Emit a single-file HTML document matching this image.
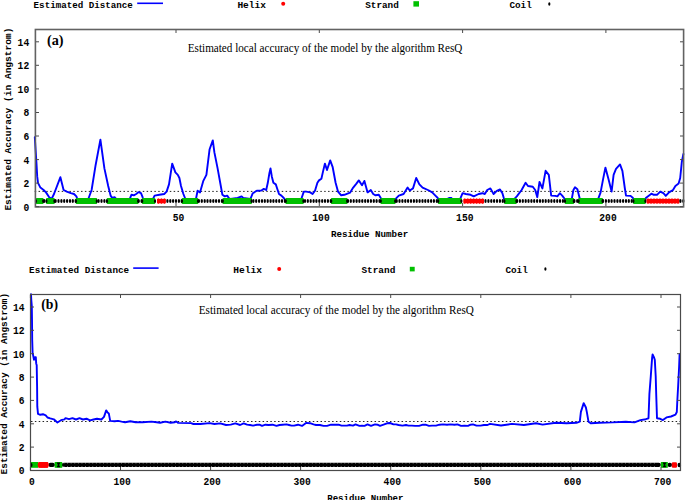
<!DOCTYPE html>
<html><head><meta charset="utf-8"><title>ResQ local accuracy</title>
<style>html,body{margin:0;padding:0;background:#fff;width:685px;height:500px;overflow:hidden}svg{display:block}text{fill:#000}</style>
</head><body>
<svg width="685" height="500" viewBox="0 0 685 500">
<rect width="685" height="500" fill="#fff"/>
<line x1="34.7" y1="191.4" x2="683" y2="191.4" stroke="#222" stroke-width="1" stroke-dasharray="1.5 2.36"/>
<path d="M34.8,137.2 L36.4,162.0 L37.2,176.4 L38.0,182.8 L40.4,187.6 L43.6,190.0 L46.0,192.4 L49.2,197.2 L51.6,198.8 L54.0,194.0 L60.4,177.2 L63.6,190.0 L66.8,191.6 L70.8,193.2 L74.0,194.0 L76.4,196.4 L77.2,198.8 L79.0,201.0 L86.0,201.0 L88.4,198.8 L91.6,190.0 L95.6,165.2 L100.4,139.6 L104.4,168.4 L108.2,186.0 L110.6,195.6 L112.2,198.0 L114.6,197.2 L116.2,198.8 L118.0,201.0 L128.0,201.0 L129.8,198.8 L131.4,194.8 L133.8,195.3 L136.2,194.0 L138.6,192.1 L141.0,193.2 L142.6,197.2 L143.4,200.4 L145.0,201.0 L151.0,201.0 L153.0,198.8 L154.6,195.6 L159.4,194.8 L164.2,194.0 L166.6,191.6 L169.0,184.4 L172.2,163.6 L175.4,172.4 L177.8,174.8 L179.4,178.0 L181.0,186.0 L183.4,194.0 L185.0,198.0 L186.0,201.0 L195.0,201.0 L196.0,198.8 L197.6,190.8 L200.0,192.4 L203.2,181.2 L206.4,174.8 L209.6,149.2 L212.8,140.4 L214.4,152.4 L217.6,168.4 L220.8,186.0 L222.4,194.8 L224.8,196.4 L227.2,195.6 L228.8,198.0 L230.4,199.0 L237.6,198.0 L241.6,196.4 L243.2,198.0 L250.4,199.0 L252.8,193.2 L256.8,190.8 L261.4,190.5 L263.8,188.9 L266.2,190.0 L267.8,182.8 L269.4,173.2 L270.5,168.4 L271.8,176.4 L273.4,182.8 L275.8,184.4 L277.4,189.2 L279.0,194.0 L281.4,195.6 L283.8,198.0 L285.4,200.4 L287.0,201.0 L300.0,201.0 L301.4,198.8 L303.8,191.6 L306.2,191.6 L310.2,192.4 L312.6,194.0 L315.0,190.8 L317.4,182.8 L319.0,180.4 L321.4,178.8 L323.0,171.6 L324.9,163.6 L327.0,170.0 L330.2,160.4 L332.6,166.8 L335.6,182.8 L338.0,191.6 L341.2,195.3 L344.4,194.8 L350.0,192.7 L353.2,187.6 L356.4,183.6 L358.8,180.4 L362.0,185.2 L364.4,180.9 L367.6,192.4 L370.8,190.0 L373.2,194.0 L375.6,195.3 L378.8,194.8 L381.2,198.8 L383.0,201.0 L394.0,201.0 L395.6,198.8 L398.8,195.6 L403.6,194.0 L407.6,187.6 L409.8,190.5 L413.0,188.4 L416.2,178.0 L419.4,184.4 L422.6,187.6 L429.0,190.5 L432.2,192.4 L435.4,195.6 L437.8,198.0 L439.0,201.0 L447.0,199.0 L449.0,198.0 L451.4,198.0 L453.0,201.0 L459.0,201.0 L460.2,198.8 L462.6,193.2 L465.8,194.0 L470.6,194.8 L473.8,196.4 L478.6,194.0 L482.4,193.2 L484.8,194.0 L487.2,190.0 L490.4,188.4 L493.6,194.0 L496.8,190.8 L500.0,189.5 L502.4,193.2 L504.0,198.8 L506.0,201.0 L513.0,201.0 L514.4,198.8 L516.8,196.4 L521.6,190.0 L525.6,182.8 L528.0,186.0 L532.8,186.8 L535.2,190.0 L537.3,197.2 L539.5,182.0 L542.4,188.4 L545.6,170.8 L548.8,174.8 L551.2,195.6 L555.2,195.9 L557.4,196.4 L559.8,193.2 L562.2,195.6 L564.6,198.8 L566.0,201.0 L571.0,201.0 L571.8,198.8 L573.4,190.0 L575.0,187.3 L577.4,189.2 L579.8,198.8 L581.0,201.0 L597.0,201.0 L598.2,198.8 L600.6,192.4 L603.0,179.6 L605.4,167.6 L608.6,179.6 L611.6,191.6 L613.6,174.8 L616.0,168.8 L620.0,164.4 L622.4,170.8 L624.8,188.0 L626.0,195.6 L630.6,195.9 L633.0,198.0 L634.0,201.0 L645.0,201.0 L645.8,198.0 L651.4,193.7 L653.8,194.8 L657.0,194.8 L660.2,191.6 L663.4,193.2 L665.8,195.9 L669.0,192.4 L673.0,190.0 L675.4,186.0 L678.6,183.6 L680.2,178.0 L681.8,162.0 L683.4,154.0" fill="none" stroke="#0000ff" stroke-width="1.9" stroke-linejoin="round" stroke-linecap="round"/>
<rect x="35.6" y="198.1" width="8.0" height="5.9" rx="1" fill="#00c000"/>
<ellipse cx="36.0" cy="201.1" rx="1.1" ry="1.9" fill="#000"/>
<ellipse cx="43.2" cy="201.1" rx="1.1" ry="1.9" fill="#000"/>
<ellipse cx="44.2" cy="201.1" rx="1.15" ry="2" fill="#000"/>
<rect x="46.0" y="198.1" width="8.8" height="5.9" rx="1" fill="#00c000"/>
<ellipse cx="46.4" cy="201.1" rx="1.1" ry="1.9" fill="#000"/>
<ellipse cx="54.4" cy="201.1" rx="1.1" ry="1.9" fill="#000"/>
<ellipse cx="55.6" cy="201.1" rx="1.15" ry="2" fill="#000"/>
<ellipse cx="58.5" cy="201.1" rx="1.15" ry="2" fill="#000"/>
<ellipse cx="61.4" cy="201.1" rx="1.15" ry="2" fill="#000"/>
<ellipse cx="64.2" cy="201.1" rx="1.15" ry="2" fill="#000"/>
<ellipse cx="67.1" cy="201.1" rx="1.15" ry="2" fill="#000"/>
<ellipse cx="70.0" cy="201.1" rx="1.15" ry="2" fill="#000"/>
<ellipse cx="72.8" cy="201.1" rx="1.15" ry="2" fill="#000"/>
<ellipse cx="75.7" cy="201.1" rx="1.15" ry="2" fill="#000"/>
<rect x="75.6" y="198.1" width="21.6" height="5.9" rx="1" fill="#00c000"/>
<ellipse cx="76.0" cy="201.1" rx="1.1" ry="1.9" fill="#000"/>
<ellipse cx="96.8" cy="201.1" rx="1.1" ry="1.9" fill="#000"/>
<ellipse cx="98.6" cy="201.1" rx="1.15" ry="2" fill="#000"/>
<ellipse cx="101.5" cy="201.1" rx="1.15" ry="2" fill="#000"/>
<ellipse cx="104.4" cy="201.1" rx="1.15" ry="2" fill="#000"/>
<ellipse cx="107.2" cy="201.1" rx="1.15" ry="2" fill="#000"/>
<rect x="106.6" y="198.1" width="32.0" height="5.9" rx="1" fill="#00c000"/>
<ellipse cx="107.0" cy="201.1" rx="1.1" ry="1.9" fill="#000"/>
<ellipse cx="138.2" cy="201.1" rx="1.1" ry="1.9" fill="#000"/>
<ellipse cx="138.7" cy="201.1" rx="1.15" ry="2" fill="#000"/>
<ellipse cx="141.6" cy="201.1" rx="1.15" ry="2" fill="#000"/>
<rect x="141.8" y="198.1" width="13.6" height="5.9" rx="1" fill="#00c000"/>
<ellipse cx="142.2" cy="201.1" rx="1.1" ry="1.9" fill="#000"/>
<ellipse cx="155.0" cy="201.1" rx="1.1" ry="1.9" fill="#000"/>
<rect x="157.0" y="198.9" width="8.8" height="4.4" fill="#ff0000"/>
<ellipse cx="158.4" cy="201.1" rx="1.2" ry="2.9" fill="#ff0000"/>
<ellipse cx="161.4" cy="201.1" rx="1.2" ry="2.9" fill="#ff0000"/>
<ellipse cx="164.4" cy="201.1" rx="1.2" ry="2.9" fill="#ff0000"/>
<ellipse cx="167.4" cy="201.1" rx="1.15" ry="2" fill="#000"/>
<ellipse cx="170.3" cy="201.1" rx="1.15" ry="2" fill="#000"/>
<ellipse cx="173.1" cy="201.1" rx="1.15" ry="2" fill="#000"/>
<ellipse cx="176.0" cy="201.1" rx="1.15" ry="2" fill="#000"/>
<ellipse cx="178.9" cy="201.1" rx="1.15" ry="2" fill="#000"/>
<ellipse cx="181.7" cy="201.1" rx="1.15" ry="2" fill="#000"/>
<rect x="181.6" y="198.1" width="16.8" height="5.9" rx="1" fill="#00c000"/>
<ellipse cx="182.0" cy="201.1" rx="1.1" ry="1.9" fill="#000"/>
<ellipse cx="198.0" cy="201.1" rx="1.1" ry="1.9" fill="#000"/>
<ellipse cx="198.9" cy="201.1" rx="1.15" ry="2" fill="#000"/>
<ellipse cx="201.8" cy="201.1" rx="1.15" ry="2" fill="#000"/>
<ellipse cx="204.7" cy="201.1" rx="1.15" ry="2" fill="#000"/>
<ellipse cx="207.5" cy="201.1" rx="1.15" ry="2" fill="#000"/>
<ellipse cx="210.4" cy="201.1" rx="1.15" ry="2" fill="#000"/>
<ellipse cx="213.3" cy="201.1" rx="1.15" ry="2" fill="#000"/>
<ellipse cx="216.1" cy="201.1" rx="1.15" ry="2" fill="#000"/>
<ellipse cx="219.0" cy="201.1" rx="1.15" ry="2" fill="#000"/>
<ellipse cx="221.9" cy="201.1" rx="1.15" ry="2" fill="#000"/>
<rect x="222.4" y="198.1" width="29.6" height="5.9" rx="1" fill="#00c000"/>
<ellipse cx="222.8" cy="201.1" rx="1.1" ry="1.9" fill="#000"/>
<ellipse cx="251.6" cy="201.1" rx="1.1" ry="1.9" fill="#000"/>
<ellipse cx="253.4" cy="201.1" rx="1.15" ry="2" fill="#000"/>
<ellipse cx="256.2" cy="201.1" rx="1.15" ry="2" fill="#000"/>
<ellipse cx="259.1" cy="201.1" rx="1.15" ry="2" fill="#000"/>
<ellipse cx="262.0" cy="201.1" rx="1.15" ry="2" fill="#000"/>
<ellipse cx="264.8" cy="201.1" rx="1.15" ry="2" fill="#000"/>
<ellipse cx="267.7" cy="201.1" rx="1.15" ry="2" fill="#000"/>
<ellipse cx="270.6" cy="201.1" rx="1.15" ry="2" fill="#000"/>
<ellipse cx="273.4" cy="201.1" rx="1.15" ry="2" fill="#000"/>
<ellipse cx="276.3" cy="201.1" rx="1.15" ry="2" fill="#000"/>
<ellipse cx="279.2" cy="201.1" rx="1.15" ry="2" fill="#000"/>
<ellipse cx="282.0" cy="201.1" rx="1.15" ry="2" fill="#000"/>
<ellipse cx="284.9" cy="201.1" rx="1.15" ry="2" fill="#000"/>
<rect x="285.4" y="198.1" width="18.4" height="5.9" rx="1" fill="#00c000"/>
<ellipse cx="285.8" cy="201.1" rx="1.1" ry="1.9" fill="#000"/>
<ellipse cx="303.4" cy="201.1" rx="1.1" ry="1.9" fill="#000"/>
<ellipse cx="305.0" cy="201.1" rx="1.15" ry="2" fill="#000"/>
<ellipse cx="307.8" cy="201.1" rx="1.15" ry="2" fill="#000"/>
<ellipse cx="310.7" cy="201.1" rx="1.15" ry="2" fill="#000"/>
<ellipse cx="313.6" cy="201.1" rx="1.15" ry="2" fill="#000"/>
<ellipse cx="316.4" cy="201.1" rx="1.15" ry="2" fill="#000"/>
<ellipse cx="319.3" cy="201.1" rx="1.15" ry="2" fill="#000"/>
<ellipse cx="322.2" cy="201.1" rx="1.15" ry="2" fill="#000"/>
<ellipse cx="325.0" cy="201.1" rx="1.15" ry="2" fill="#000"/>
<ellipse cx="327.9" cy="201.1" rx="1.15" ry="2" fill="#000"/>
<ellipse cx="330.8" cy="201.1" rx="1.15" ry="2" fill="#000"/>
<rect x="330.8" y="198.1" width="16.8" height="5.9" rx="1" fill="#00c000"/>
<ellipse cx="331.2" cy="201.1" rx="1.1" ry="1.9" fill="#000"/>
<ellipse cx="347.2" cy="201.1" rx="1.1" ry="1.9" fill="#000"/>
<ellipse cx="348.0" cy="201.1" rx="1.15" ry="2" fill="#000"/>
<ellipse cx="350.8" cy="201.1" rx="1.15" ry="2" fill="#000"/>
<ellipse cx="353.7" cy="201.1" rx="1.15" ry="2" fill="#000"/>
<ellipse cx="356.6" cy="201.1" rx="1.15" ry="2" fill="#000"/>
<ellipse cx="359.4" cy="201.1" rx="1.15" ry="2" fill="#000"/>
<ellipse cx="362.3" cy="201.1" rx="1.15" ry="2" fill="#000"/>
<ellipse cx="365.2" cy="201.1" rx="1.15" ry="2" fill="#000"/>
<ellipse cx="368.0" cy="201.1" rx="1.15" ry="2" fill="#000"/>
<ellipse cx="370.9" cy="201.1" rx="1.15" ry="2" fill="#000"/>
<ellipse cx="373.8" cy="201.1" rx="1.15" ry="2" fill="#000"/>
<ellipse cx="376.6" cy="201.1" rx="1.15" ry="2" fill="#000"/>
<ellipse cx="379.5" cy="201.1" rx="1.15" ry="2" fill="#000"/>
<rect x="380.4" y="198.1" width="15.2" height="5.9" rx="1" fill="#00c000"/>
<ellipse cx="380.8" cy="201.1" rx="1.1" ry="1.9" fill="#000"/>
<ellipse cx="395.2" cy="201.1" rx="1.1" ry="1.9" fill="#000"/>
<ellipse cx="396.7" cy="201.1" rx="1.15" ry="2" fill="#000"/>
<ellipse cx="399.5" cy="201.1" rx="1.15" ry="2" fill="#000"/>
<ellipse cx="402.4" cy="201.1" rx="1.15" ry="2" fill="#000"/>
<ellipse cx="405.3" cy="201.1" rx="1.15" ry="2" fill="#000"/>
<ellipse cx="408.1" cy="201.1" rx="1.15" ry="2" fill="#000"/>
<ellipse cx="411.0" cy="201.1" rx="1.15" ry="2" fill="#000"/>
<ellipse cx="413.9" cy="201.1" rx="1.15" ry="2" fill="#000"/>
<ellipse cx="416.7" cy="201.1" rx="1.15" ry="2" fill="#000"/>
<ellipse cx="419.6" cy="201.1" rx="1.15" ry="2" fill="#000"/>
<ellipse cx="422.5" cy="201.1" rx="1.15" ry="2" fill="#000"/>
<ellipse cx="425.3" cy="201.1" rx="1.15" ry="2" fill="#000"/>
<ellipse cx="428.2" cy="201.1" rx="1.15" ry="2" fill="#000"/>
<ellipse cx="431.1" cy="201.1" rx="1.15" ry="2" fill="#000"/>
<ellipse cx="433.9" cy="201.1" rx="1.15" ry="2" fill="#000"/>
<ellipse cx="436.8" cy="201.1" rx="1.15" ry="2" fill="#000"/>
<rect x="437.8" y="198.1" width="24.0" height="5.9" rx="1" fill="#00c000"/>
<ellipse cx="438.2" cy="201.1" rx="1.1" ry="1.9" fill="#000"/>
<ellipse cx="461.4" cy="201.1" rx="1.1" ry="1.9" fill="#000"/>
<rect x="463.4" y="198.9" width="20.6" height="4.4" fill="#ff0000"/>
<ellipse cx="464.8" cy="201.1" rx="1.2" ry="2.9" fill="#ff0000"/>
<ellipse cx="467.8" cy="201.1" rx="1.2" ry="2.9" fill="#ff0000"/>
<ellipse cx="470.7" cy="201.1" rx="1.2" ry="2.9" fill="#ff0000"/>
<ellipse cx="473.7" cy="201.1" rx="1.2" ry="2.9" fill="#ff0000"/>
<ellipse cx="476.7" cy="201.1" rx="1.2" ry="2.9" fill="#ff0000"/>
<ellipse cx="479.6" cy="201.1" rx="1.2" ry="2.9" fill="#ff0000"/>
<ellipse cx="482.6" cy="201.1" rx="1.2" ry="2.9" fill="#ff0000"/>
<ellipse cx="485.5" cy="201.1" rx="1.15" ry="2" fill="#000"/>
<ellipse cx="488.4" cy="201.1" rx="1.15" ry="2" fill="#000"/>
<ellipse cx="491.3" cy="201.1" rx="1.15" ry="2" fill="#000"/>
<ellipse cx="494.1" cy="201.1" rx="1.15" ry="2" fill="#000"/>
<ellipse cx="497.0" cy="201.1" rx="1.15" ry="2" fill="#000"/>
<ellipse cx="499.9" cy="201.1" rx="1.15" ry="2" fill="#000"/>
<ellipse cx="502.7" cy="201.1" rx="1.15" ry="2" fill="#000"/>
<rect x="504.0" y="198.1" width="12.8" height="5.9" rx="1" fill="#00c000"/>
<ellipse cx="504.4" cy="201.1" rx="1.1" ry="1.9" fill="#000"/>
<ellipse cx="516.4" cy="201.1" rx="1.1" ry="1.9" fill="#000"/>
<ellipse cx="517.1" cy="201.1" rx="1.15" ry="2" fill="#000"/>
<ellipse cx="519.9" cy="201.1" rx="1.15" ry="2" fill="#000"/>
<ellipse cx="522.8" cy="201.1" rx="1.15" ry="2" fill="#000"/>
<ellipse cx="525.7" cy="201.1" rx="1.15" ry="2" fill="#000"/>
<ellipse cx="528.5" cy="201.1" rx="1.15" ry="2" fill="#000"/>
<ellipse cx="531.4" cy="201.1" rx="1.15" ry="2" fill="#000"/>
<ellipse cx="534.2" cy="201.1" rx="1.15" ry="2" fill="#000"/>
<ellipse cx="537.1" cy="201.1" rx="1.15" ry="2" fill="#000"/>
<ellipse cx="540.0" cy="201.1" rx="1.15" ry="2" fill="#000"/>
<ellipse cx="542.8" cy="201.1" rx="1.15" ry="2" fill="#000"/>
<ellipse cx="545.7" cy="201.1" rx="1.15" ry="2" fill="#000"/>
<ellipse cx="548.6" cy="201.1" rx="1.15" ry="2" fill="#000"/>
<ellipse cx="551.4" cy="201.1" rx="1.15" ry="2" fill="#000"/>
<ellipse cx="554.3" cy="201.1" rx="1.15" ry="2" fill="#000"/>
<ellipse cx="557.2" cy="201.1" rx="1.15" ry="2" fill="#000"/>
<ellipse cx="560.0" cy="201.1" rx="1.15" ry="2" fill="#000"/>
<ellipse cx="562.9" cy="201.1" rx="1.15" ry="2" fill="#000"/>
<rect x="564.6" y="198.1" width="9.6" height="5.9" rx="1" fill="#00c000"/>
<ellipse cx="565.0" cy="201.1" rx="1.1" ry="1.9" fill="#000"/>
<ellipse cx="573.8" cy="201.1" rx="1.1" ry="1.9" fill="#000"/>
<ellipse cx="574.4" cy="201.1" rx="1.15" ry="2" fill="#000"/>
<ellipse cx="577.2" cy="201.1" rx="1.15" ry="2" fill="#000"/>
<rect x="578.2" y="198.1" width="24.8" height="5.9" rx="1" fill="#00c000"/>
<ellipse cx="578.6" cy="201.1" rx="1.1" ry="1.9" fill="#000"/>
<ellipse cx="602.6" cy="201.1" rx="1.1" ry="1.9" fill="#000"/>
<ellipse cx="603.0" cy="201.1" rx="1.15" ry="2" fill="#000"/>
<ellipse cx="605.9" cy="201.1" rx="1.15" ry="2" fill="#000"/>
<ellipse cx="608.8" cy="201.1" rx="1.15" ry="2" fill="#000"/>
<ellipse cx="611.6" cy="201.1" rx="1.15" ry="2" fill="#000"/>
<ellipse cx="614.5" cy="201.1" rx="1.15" ry="2" fill="#000"/>
<ellipse cx="617.4" cy="201.1" rx="1.15" ry="2" fill="#000"/>
<ellipse cx="620.2" cy="201.1" rx="1.15" ry="2" fill="#000"/>
<ellipse cx="623.1" cy="201.1" rx="1.15" ry="2" fill="#000"/>
<ellipse cx="626.0" cy="201.1" rx="1.15" ry="2" fill="#000"/>
<ellipse cx="628.8" cy="201.1" rx="1.15" ry="2" fill="#000"/>
<ellipse cx="631.7" cy="201.1" rx="1.15" ry="2" fill="#000"/>
<rect x="633.0" y="198.1" width="12.8" height="5.9" rx="1" fill="#00c000"/>
<ellipse cx="633.4" cy="201.1" rx="1.1" ry="1.9" fill="#000"/>
<ellipse cx="645.4" cy="201.1" rx="1.1" ry="1.9" fill="#000"/>
<rect x="646.6" y="198.9" width="32.8" height="4.4" fill="#ff0000"/>
<ellipse cx="648.0" cy="201.1" rx="1.2" ry="2.9" fill="#ff0000"/>
<ellipse cx="651.0" cy="201.1" rx="1.2" ry="2.9" fill="#ff0000"/>
<ellipse cx="654.0" cy="201.1" rx="1.2" ry="2.9" fill="#ff0000"/>
<ellipse cx="657.0" cy="201.1" rx="1.2" ry="2.9" fill="#ff0000"/>
<ellipse cx="660.0" cy="201.1" rx="1.2" ry="2.9" fill="#ff0000"/>
<ellipse cx="663.0" cy="201.1" rx="1.2" ry="2.9" fill="#ff0000"/>
<ellipse cx="666.0" cy="201.1" rx="1.2" ry="2.9" fill="#ff0000"/>
<ellipse cx="669.0" cy="201.1" rx="1.2" ry="2.9" fill="#ff0000"/>
<ellipse cx="672.0" cy="201.1" rx="1.2" ry="2.9" fill="#ff0000"/>
<ellipse cx="675.0" cy="201.1" rx="1.2" ry="2.9" fill="#ff0000"/>
<ellipse cx="678.0" cy="201.1" rx="1.2" ry="2.9" fill="#ff0000"/>
<ellipse cx="680.4" cy="201.1" rx="1.15" ry="2" fill="#000"/>
<ellipse cx="683.3" cy="201.1" rx="1.15" ry="2" fill="#000"/>
<rect x="35.4" y="29.5" width="648.2" height="177.4" fill="none" stroke="#626262" stroke-width="1.6"/>
<line x1="176.0" y1="206" x2="176.0" y2="203" stroke="#4a4a4a" stroke-width="1"/>
<line x1="176.0" y1="30" x2="176.0" y2="33" stroke="#4a4a4a" stroke-width="1"/>
<line x1="319.3" y1="206" x2="319.3" y2="203" stroke="#4a4a4a" stroke-width="1"/>
<line x1="319.3" y1="30" x2="319.3" y2="33" stroke="#4a4a4a" stroke-width="1"/>
<line x1="462.6" y1="206" x2="462.6" y2="203" stroke="#4a4a4a" stroke-width="1"/>
<line x1="462.6" y1="30" x2="462.6" y2="33" stroke="#4a4a4a" stroke-width="1"/>
<line x1="605.9" y1="206" x2="605.9" y2="203" stroke="#4a4a4a" stroke-width="1"/>
<line x1="605.9" y1="30" x2="605.9" y2="33" stroke="#4a4a4a" stroke-width="1"/>
<line x1="36" y1="206.7" x2="39" y2="206.7" stroke="#4a4a4a" stroke-width="1"/>
<line x1="680" y1="206.7" x2="683" y2="206.7" stroke="#4a4a4a" stroke-width="1"/>
<line x1="36" y1="183.1" x2="39" y2="183.1" stroke="#4a4a4a" stroke-width="1"/>
<line x1="680" y1="183.1" x2="683" y2="183.1" stroke="#4a4a4a" stroke-width="1"/>
<line x1="36" y1="159.6" x2="39" y2="159.6" stroke="#4a4a4a" stroke-width="1"/>
<line x1="680" y1="159.6" x2="683" y2="159.6" stroke="#4a4a4a" stroke-width="1"/>
<line x1="36" y1="136.0" x2="39" y2="136.0" stroke="#4a4a4a" stroke-width="1"/>
<line x1="680" y1="136.0" x2="683" y2="136.0" stroke="#4a4a4a" stroke-width="1"/>
<line x1="36" y1="112.5" x2="39" y2="112.5" stroke="#4a4a4a" stroke-width="1"/>
<line x1="680" y1="112.5" x2="683" y2="112.5" stroke="#4a4a4a" stroke-width="1"/>
<line x1="36" y1="88.9" x2="39" y2="88.9" stroke="#4a4a4a" stroke-width="1"/>
<line x1="680" y1="88.9" x2="683" y2="88.9" stroke="#4a4a4a" stroke-width="1"/>
<line x1="36" y1="65.3" x2="39" y2="65.3" stroke="#4a4a4a" stroke-width="1"/>
<line x1="680" y1="65.3" x2="683" y2="65.3" stroke="#4a4a4a" stroke-width="1"/>
<line x1="36" y1="41.8" x2="39" y2="41.8" stroke="#4a4a4a" stroke-width="1"/>
<line x1="680" y1="41.8" x2="683" y2="41.8" stroke="#4a4a4a" stroke-width="1"/>
<text x="178.5" y="221.4" font-family="Liberation Mono, monospace" font-weight="bold" font-size="11" text-anchor="middle" textLength="11.6" lengthAdjust="spacingAndGlyphs" >50</text>
<text x="321" y="221.4" font-family="Liberation Mono, monospace" font-weight="bold" font-size="11" text-anchor="middle" textLength="17.4" lengthAdjust="spacingAndGlyphs" >100</text>
<text x="464.8" y="221.4" font-family="Liberation Mono, monospace" font-weight="bold" font-size="11" text-anchor="middle" textLength="17.4" lengthAdjust="spacingAndGlyphs" >150</text>
<text x="608" y="221.4" font-family="Liberation Mono, monospace" font-weight="bold" font-size="11" text-anchor="middle" textLength="17.4" lengthAdjust="spacingAndGlyphs" >200</text>
<text x="29.2" y="210.6" font-family="Liberation Mono, monospace" font-weight="bold" font-size="11" text-anchor="end" textLength="5.8" lengthAdjust="spacingAndGlyphs" >0</text>
<text x="29.2" y="187.0" font-family="Liberation Mono, monospace" font-weight="bold" font-size="11" text-anchor="end" textLength="5.8" lengthAdjust="spacingAndGlyphs" >2</text>
<text x="29.2" y="163.5" font-family="Liberation Mono, monospace" font-weight="bold" font-size="11" text-anchor="end" textLength="5.8" lengthAdjust="spacingAndGlyphs" >4</text>
<text x="29.2" y="139.9" font-family="Liberation Mono, monospace" font-weight="bold" font-size="11" text-anchor="end" textLength="5.8" lengthAdjust="spacingAndGlyphs" >6</text>
<text x="29.2" y="116.4" font-family="Liberation Mono, monospace" font-weight="bold" font-size="11" text-anchor="end" textLength="5.8" lengthAdjust="spacingAndGlyphs" >8</text>
<text x="29.2" y="92.8" font-family="Liberation Mono, monospace" font-weight="bold" font-size="11" text-anchor="end" textLength="11.6" lengthAdjust="spacingAndGlyphs" >10</text>
<text x="29.2" y="69.2" font-family="Liberation Mono, monospace" font-weight="bold" font-size="11" text-anchor="end" textLength="11.6" lengthAdjust="spacingAndGlyphs" >12</text>
<text x="29.2" y="45.7" font-family="Liberation Mono, monospace" font-weight="bold" font-size="11" text-anchor="end" textLength="11.6" lengthAdjust="spacingAndGlyphs" >14</text>
<text x="330.9" y="237.4" font-family="Liberation Mono, monospace" font-weight="bold" font-size="9.9" text-anchor="start" textLength="77.3" lengthAdjust="spacingAndGlyphs" >Residue Number</text>
<text transform="translate(11.4,210.6) rotate(-90)" font-family="Liberation Mono, monospace" font-weight="bold" font-size="9.6" textLength="183" lengthAdjust="spacingAndGlyphs">Estimated Accuracy (in Angstrom)</text>
<text x="187.8" y="52.3" font-family="Liberation Serif, serif" font-size="12" textLength="274.6" lengthAdjust="spacingAndGlyphs">Estimated local accuracy of the model by the algorithm ResQ</text>
<text x="47.0" y="45.0" font-family="Liberation Serif, serif" font-weight="bold" font-size="14" textLength="16.6" lengthAdjust="spacingAndGlyphs">(a)</text>
<text x="33.6" y="7.6" font-family="Liberation Mono, monospace" font-weight="bold" font-size="9.9" text-anchor="start" textLength="99.3" lengthAdjust="spacingAndGlyphs" >Estimated Distance</text>
<line x1="137.2" y1="3.3" x2="163" y2="3.3" stroke="#0000ff" stroke-width="1.6"/>
<text x="237.4" y="7.6" font-family="Liberation Mono, monospace" font-weight="bold" font-size="9.9" text-anchor="start" textLength="28.6" lengthAdjust="spacingAndGlyphs" >Helix</text>
<circle cx="283.2" cy="3.8" r="2" fill="#ff0000"/>
<text x="365.2" y="7.6" font-family="Liberation Mono, monospace" font-weight="bold" font-size="9.9" text-anchor="start" textLength="33.6" lengthAdjust="spacingAndGlyphs" >Strand</text>
<rect x="413.4" y="1.2" width="5.6" height="5.4" fill="#00c000"/>
<text x="509.4" y="7.6" font-family="Liberation Mono, monospace" font-weight="bold" font-size="9.9" text-anchor="start" textLength="22.4" lengthAdjust="spacingAndGlyphs" >Coil</text>
<ellipse cx="549.3" cy="4" rx="1.1" ry="1.8" fill="#000"/>
<line x1="31" y1="421.5" x2="680" y2="421.5" stroke="#222" stroke-width="1" stroke-dasharray="1.5 2.36"/>
<path d="M31.0,294.2 L31.3,300.0 L31.8,306.0 L32.0,320.0 L32.2,340.0 L32.6,352.6 L34.0,359.8 L34.9,357.1 L35.8,357.1 L36.2,363.4 L36.7,365.2 L37.1,386.8 L37.3,406.7 L38.0,413.9 L40.3,414.8 L43.0,414.2 L45.7,415.3 L47.5,417.5 L50.2,418.4 L53.8,419.3 L57.4,422.5 L61.0,420.2 L64.6,419.3 L65.5,418.1 L69.0,419.2 L72.5,418.1 L76.0,419.5 L79.5,418.1 L83.0,419.5 L86.5,418.7 L90.0,420.4 L93.5,419.5 L97.0,418.7 L101.4,419.5 L104.0,416.9 L106.2,410.4 L107.6,412.5 L108.8,413.4 L110.2,420.9 L114.6,421.3 L118.1,420.9 L121.6,421.6 L125.1,422.2 L130.3,421.3 L135.6,422.2 L142.6,422.2 L151.4,421.6 L156.6,422.2 L160.1,422.7 L165.4,421.6 L170.6,422.7 L174.7,422.3 L175.8,421.4 L177.0,422.0 L178.2,422.9 L191.0,423.1 L193.4,424.0 L200.4,424.0 L209.7,423.1 L214.4,424.0 L220.2,423.4 L226.1,425.0 L230.7,424.6 L235.4,423.4 L240.1,425.0 L243.6,423.4 L247.1,424.6 L250.0,425.0 L253.0,425.6 L257.0,424.7 L259.5,424.7 L262.0,425.9 L265.5,424.7 L268.5,425.0 L272.5,424.7 L276.5,425.9 L279.5,425.0 L282.5,424.7 L286.5,424.4 L289.0,425.0 L291.5,425.6 L294.0,425.6 L298.0,424.7 L302.0,425.9 L306.0,422.9 L310.0,423.2 L313.5,424.4 L316.0,425.0 L320.0,425.0 L323.5,425.9 L327.0,425.9 L331.0,424.7 L334.5,424.7 L338.5,424.7 L341.5,425.6 L344.0,425.6 L347.0,425.6 L349.5,425.0 L353.0,425.6 L355.5,424.4 L359.5,425.9 L362.0,425.6 L364.5,425.9 L367.5,424.4 L371.0,425.9 L375.0,424.4 L377.5,424.7 L380.0,425.9 L383.5,424.7 L387.0,423.3 L390.0,423.0 L393.5,424.4 L396.0,424.4 L398.5,425.0 L402.5,425.6 L406.0,425.0 L408.5,425.6 L412.0,425.6 L415.0,425.9 L419.0,425.9 L423.0,424.7 L425.5,424.7 L429.0,425.9 L432.0,425.6 L436.0,425.6 L439.5,424.7 L443.0,424.4 L447.0,424.7 L450.5,424.4 L454.5,424.7 L457.5,424.4 L461.0,425.9 L464.5,425.6 L468.0,425.9 L470.5,424.7 L473.0,424.4 L476.5,425.6 L480.5,425.6 L484.0,425.0 L487.5,425.0 L490.0,423.9 L501.0,425.5 L511.9,423.9 L523.9,425.0 L536.0,423.3 L542.6,424.6 L555.7,422.8 L566.6,423.3 L576.5,422.8 L579.8,421.7 L580.9,411.9 L583.7,403.1 L585.9,407.5 L586.8,411.9 L588.5,421.7 L590.7,423.3 L599.5,422.8 L612.6,422.4 L625.8,421.7 L634.5,422.4 L640.4,420.1 L645.8,419.2 L648.5,418.3 L649.4,394.0 L650.8,376.0 L652.1,358.0 L652.6,354.4 L653.9,357.1 L654.8,359.8 L655.7,376.0 L656.2,394.0 L657.0,418.3 L660.2,418.8 L662.9,420.1 L666.5,417.4 L671.0,416.5 L675.5,414.7 L676.8,412.0 L677.3,401.2 L678.2,385.0 L679.1,367.0 L679.6,354.4 L680.0,354.0" fill="none" stroke="#0000ff" stroke-width="1.9" stroke-linejoin="round" stroke-linecap="round"/>
<rect x="48.4" y="462.7" width="6.5" height="4.3" rx="2" fill="#000"/>
<rect x="61.8" y="462.7" width="599" height="4.3" rx="2" fill="#000"/>
<rect x="667.5" y="462.7" width="4.5" height="4.3" rx="2" fill="#000"/>
<ellipse cx="31.3" cy="465" rx="1.15" ry="2" fill="#000"/>
<ellipse cx="679.3" cy="465" rx="1.8" ry="2.2" fill="#000"/>
<rect x="30.8" y="462" width="7.5" height="5.8" fill="#00c000"/>
<rect x="54.7" y="462" width="7.5" height="5.8" fill="#00c000"/>
<rect x="660.9" y="462" width="6.9" height="5.8" fill="#00c000"/>
<circle cx="40.5" cy="464.9" r="2.8" fill="#ff0000"/>
<circle cx="43.2" cy="464.9" r="2.8" fill="#ff0000"/>
<circle cx="46" cy="464.9" r="2.8" fill="#ff0000"/>
<rect x="38.4" y="462.1" width="9.7" height="5.6" fill="#ff0000"/>
<rect x="671.8" y="462.2" width="5.2" height="5.6" rx="1.2" fill="#ff0000"/>
<path d="M56.6,462.6 L60.4,462.6 L59.1,464.9 L60.4,467.2 L56.6,467.2 L57.9,464.9 Z" fill="#000"/>
<path d="M662.6,462.6 L666.4,462.6 L665.1,464.9 L666.4,467.2 L662.6,467.2 L663.9,464.9 Z" fill="#000"/>
<ellipse cx="31.4" cy="465" rx="1.1" ry="1.9" fill="#000"/>
<rect x="63.5" y="462.6" width="0.9" height="0.9" fill="#fff" opacity="0.6"/>
<rect x="63.5" y="466.2" width="0.9" height="0.9" fill="#fff" opacity="0.6"/>
<rect x="67.1" y="462.6" width="0.9" height="0.9" fill="#fff" opacity="0.6"/>
<rect x="67.1" y="466.2" width="0.9" height="0.9" fill="#fff" opacity="0.6"/>
<rect x="70.7" y="462.6" width="0.9" height="0.9" fill="#fff" opacity="0.6"/>
<rect x="70.7" y="466.2" width="0.9" height="0.9" fill="#fff" opacity="0.6"/>
<rect x="74.3" y="462.6" width="0.9" height="0.9" fill="#fff" opacity="0.6"/>
<rect x="74.3" y="466.2" width="0.9" height="0.9" fill="#fff" opacity="0.6"/>
<rect x="77.9" y="462.6" width="0.9" height="0.9" fill="#fff" opacity="0.6"/>
<rect x="77.9" y="466.2" width="0.9" height="0.9" fill="#fff" opacity="0.6"/>
<rect x="81.5" y="462.6" width="0.9" height="0.9" fill="#fff" opacity="0.6"/>
<rect x="81.5" y="466.2" width="0.9" height="0.9" fill="#fff" opacity="0.6"/>
<rect x="85.1" y="462.6" width="0.9" height="0.9" fill="#fff" opacity="0.6"/>
<rect x="85.1" y="466.2" width="0.9" height="0.9" fill="#fff" opacity="0.6"/>
<rect x="88.7" y="462.6" width="0.9" height="0.9" fill="#fff" opacity="0.6"/>
<rect x="88.7" y="466.2" width="0.9" height="0.9" fill="#fff" opacity="0.6"/>
<rect x="92.3" y="462.6" width="0.9" height="0.9" fill="#fff" opacity="0.6"/>
<rect x="92.3" y="466.2" width="0.9" height="0.9" fill="#fff" opacity="0.6"/>
<rect x="95.9" y="462.6" width="0.9" height="0.9" fill="#fff" opacity="0.6"/>
<rect x="95.9" y="466.2" width="0.9" height="0.9" fill="#fff" opacity="0.6"/>
<rect x="99.5" y="462.6" width="0.9" height="0.9" fill="#fff" opacity="0.6"/>
<rect x="99.5" y="466.2" width="0.9" height="0.9" fill="#fff" opacity="0.6"/>
<rect x="103.1" y="462.6" width="0.9" height="0.9" fill="#fff" opacity="0.6"/>
<rect x="103.1" y="466.2" width="0.9" height="0.9" fill="#fff" opacity="0.6"/>
<rect x="106.7" y="462.6" width="0.9" height="0.9" fill="#fff" opacity="0.6"/>
<rect x="106.7" y="466.2" width="0.9" height="0.9" fill="#fff" opacity="0.6"/>
<rect x="110.3" y="462.6" width="0.9" height="0.9" fill="#fff" opacity="0.6"/>
<rect x="110.3" y="466.2" width="0.9" height="0.9" fill="#fff" opacity="0.6"/>
<rect x="113.9" y="462.6" width="0.9" height="0.9" fill="#fff" opacity="0.6"/>
<rect x="113.9" y="466.2" width="0.9" height="0.9" fill="#fff" opacity="0.6"/>
<rect x="117.5" y="462.6" width="0.9" height="0.9" fill="#fff" opacity="0.6"/>
<rect x="117.5" y="466.2" width="0.9" height="0.9" fill="#fff" opacity="0.6"/>
<rect x="121.1" y="462.6" width="0.9" height="0.9" fill="#fff" opacity="0.6"/>
<rect x="121.1" y="466.2" width="0.9" height="0.9" fill="#fff" opacity="0.6"/>
<rect x="124.7" y="462.6" width="0.9" height="0.9" fill="#fff" opacity="0.6"/>
<rect x="124.7" y="466.2" width="0.9" height="0.9" fill="#fff" opacity="0.6"/>
<rect x="128.3" y="462.6" width="0.9" height="0.9" fill="#fff" opacity="0.6"/>
<rect x="128.3" y="466.2" width="0.9" height="0.9" fill="#fff" opacity="0.6"/>
<rect x="131.9" y="462.6" width="0.9" height="0.9" fill="#fff" opacity="0.6"/>
<rect x="131.9" y="466.2" width="0.9" height="0.9" fill="#fff" opacity="0.6"/>
<rect x="135.5" y="462.6" width="0.9" height="0.9" fill="#fff" opacity="0.6"/>
<rect x="135.5" y="466.2" width="0.9" height="0.9" fill="#fff" opacity="0.6"/>
<rect x="139.1" y="462.6" width="0.9" height="0.9" fill="#fff" opacity="0.6"/>
<rect x="139.1" y="466.2" width="0.9" height="0.9" fill="#fff" opacity="0.6"/>
<rect x="142.7" y="462.6" width="0.9" height="0.9" fill="#fff" opacity="0.6"/>
<rect x="142.7" y="466.2" width="0.9" height="0.9" fill="#fff" opacity="0.6"/>
<rect x="146.3" y="462.6" width="0.9" height="0.9" fill="#fff" opacity="0.6"/>
<rect x="146.3" y="466.2" width="0.9" height="0.9" fill="#fff" opacity="0.6"/>
<rect x="149.9" y="462.6" width="0.9" height="0.9" fill="#fff" opacity="0.6"/>
<rect x="149.9" y="466.2" width="0.9" height="0.9" fill="#fff" opacity="0.6"/>
<rect x="153.5" y="462.6" width="0.9" height="0.9" fill="#fff" opacity="0.6"/>
<rect x="153.5" y="466.2" width="0.9" height="0.9" fill="#fff" opacity="0.6"/>
<rect x="157.1" y="462.6" width="0.9" height="0.9" fill="#fff" opacity="0.6"/>
<rect x="157.1" y="466.2" width="0.9" height="0.9" fill="#fff" opacity="0.6"/>
<rect x="160.7" y="462.6" width="0.9" height="0.9" fill="#fff" opacity="0.6"/>
<rect x="160.7" y="466.2" width="0.9" height="0.9" fill="#fff" opacity="0.6"/>
<rect x="164.3" y="462.6" width="0.9" height="0.9" fill="#fff" opacity="0.6"/>
<rect x="164.3" y="466.2" width="0.9" height="0.9" fill="#fff" opacity="0.6"/>
<rect x="167.9" y="462.6" width="0.9" height="0.9" fill="#fff" opacity="0.6"/>
<rect x="167.9" y="466.2" width="0.9" height="0.9" fill="#fff" opacity="0.6"/>
<rect x="171.5" y="462.6" width="0.9" height="0.9" fill="#fff" opacity="0.6"/>
<rect x="171.5" y="466.2" width="0.9" height="0.9" fill="#fff" opacity="0.6"/>
<rect x="175.1" y="462.6" width="0.9" height="0.9" fill="#fff" opacity="0.6"/>
<rect x="175.1" y="466.2" width="0.9" height="0.9" fill="#fff" opacity="0.6"/>
<rect x="178.7" y="462.6" width="0.9" height="0.9" fill="#fff" opacity="0.6"/>
<rect x="178.7" y="466.2" width="0.9" height="0.9" fill="#fff" opacity="0.6"/>
<rect x="182.3" y="462.6" width="0.9" height="0.9" fill="#fff" opacity="0.6"/>
<rect x="182.3" y="466.2" width="0.9" height="0.9" fill="#fff" opacity="0.6"/>
<rect x="185.9" y="462.6" width="0.9" height="0.9" fill="#fff" opacity="0.6"/>
<rect x="185.9" y="466.2" width="0.9" height="0.9" fill="#fff" opacity="0.6"/>
<rect x="189.5" y="462.6" width="0.9" height="0.9" fill="#fff" opacity="0.6"/>
<rect x="189.5" y="466.2" width="0.9" height="0.9" fill="#fff" opacity="0.6"/>
<rect x="193.1" y="462.6" width="0.9" height="0.9" fill="#fff" opacity="0.6"/>
<rect x="193.1" y="466.2" width="0.9" height="0.9" fill="#fff" opacity="0.6"/>
<rect x="196.7" y="462.6" width="0.9" height="0.9" fill="#fff" opacity="0.6"/>
<rect x="196.7" y="466.2" width="0.9" height="0.9" fill="#fff" opacity="0.6"/>
<rect x="200.3" y="462.6" width="0.9" height="0.9" fill="#fff" opacity="0.6"/>
<rect x="200.3" y="466.2" width="0.9" height="0.9" fill="#fff" opacity="0.6"/>
<rect x="203.9" y="462.6" width="0.9" height="0.9" fill="#fff" opacity="0.6"/>
<rect x="203.9" y="466.2" width="0.9" height="0.9" fill="#fff" opacity="0.6"/>
<rect x="207.5" y="462.6" width="0.9" height="0.9" fill="#fff" opacity="0.6"/>
<rect x="207.5" y="466.2" width="0.9" height="0.9" fill="#fff" opacity="0.6"/>
<rect x="211.1" y="462.6" width="0.9" height="0.9" fill="#fff" opacity="0.6"/>
<rect x="211.1" y="466.2" width="0.9" height="0.9" fill="#fff" opacity="0.6"/>
<rect x="214.7" y="462.6" width="0.9" height="0.9" fill="#fff" opacity="0.6"/>
<rect x="214.7" y="466.2" width="0.9" height="0.9" fill="#fff" opacity="0.6"/>
<rect x="218.3" y="462.6" width="0.9" height="0.9" fill="#fff" opacity="0.6"/>
<rect x="218.3" y="466.2" width="0.9" height="0.9" fill="#fff" opacity="0.6"/>
<rect x="221.9" y="462.6" width="0.9" height="0.9" fill="#fff" opacity="0.6"/>
<rect x="221.9" y="466.2" width="0.9" height="0.9" fill="#fff" opacity="0.6"/>
<rect x="225.5" y="462.6" width="0.9" height="0.9" fill="#fff" opacity="0.6"/>
<rect x="225.5" y="466.2" width="0.9" height="0.9" fill="#fff" opacity="0.6"/>
<rect x="229.1" y="462.6" width="0.9" height="0.9" fill="#fff" opacity="0.6"/>
<rect x="229.1" y="466.2" width="0.9" height="0.9" fill="#fff" opacity="0.6"/>
<rect x="232.7" y="462.6" width="0.9" height="0.9" fill="#fff" opacity="0.6"/>
<rect x="232.7" y="466.2" width="0.9" height="0.9" fill="#fff" opacity="0.6"/>
<rect x="236.3" y="462.6" width="0.9" height="0.9" fill="#fff" opacity="0.6"/>
<rect x="236.3" y="466.2" width="0.9" height="0.9" fill="#fff" opacity="0.6"/>
<rect x="239.9" y="462.6" width="0.9" height="0.9" fill="#fff" opacity="0.6"/>
<rect x="239.9" y="466.2" width="0.9" height="0.9" fill="#fff" opacity="0.6"/>
<rect x="243.5" y="462.6" width="0.9" height="0.9" fill="#fff" opacity="0.6"/>
<rect x="243.5" y="466.2" width="0.9" height="0.9" fill="#fff" opacity="0.6"/>
<rect x="247.1" y="462.6" width="0.9" height="0.9" fill="#fff" opacity="0.6"/>
<rect x="247.1" y="466.2" width="0.9" height="0.9" fill="#fff" opacity="0.6"/>
<rect x="250.7" y="462.6" width="0.9" height="0.9" fill="#fff" opacity="0.6"/>
<rect x="250.7" y="466.2" width="0.9" height="0.9" fill="#fff" opacity="0.6"/>
<rect x="254.3" y="462.6" width="0.9" height="0.9" fill="#fff" opacity="0.6"/>
<rect x="254.3" y="466.2" width="0.9" height="0.9" fill="#fff" opacity="0.6"/>
<rect x="257.9" y="462.6" width="0.9" height="0.9" fill="#fff" opacity="0.6"/>
<rect x="257.9" y="466.2" width="0.9" height="0.9" fill="#fff" opacity="0.6"/>
<rect x="261.5" y="462.6" width="0.9" height="0.9" fill="#fff" opacity="0.6"/>
<rect x="261.5" y="466.2" width="0.9" height="0.9" fill="#fff" opacity="0.6"/>
<rect x="265.1" y="462.6" width="0.9" height="0.9" fill="#fff" opacity="0.6"/>
<rect x="265.1" y="466.2" width="0.9" height="0.9" fill="#fff" opacity="0.6"/>
<rect x="268.7" y="462.6" width="0.9" height="0.9" fill="#fff" opacity="0.6"/>
<rect x="268.7" y="466.2" width="0.9" height="0.9" fill="#fff" opacity="0.6"/>
<rect x="272.3" y="462.6" width="0.9" height="0.9" fill="#fff" opacity="0.6"/>
<rect x="272.3" y="466.2" width="0.9" height="0.9" fill="#fff" opacity="0.6"/>
<rect x="275.9" y="462.6" width="0.9" height="0.9" fill="#fff" opacity="0.6"/>
<rect x="275.9" y="466.2" width="0.9" height="0.9" fill="#fff" opacity="0.6"/>
<rect x="279.5" y="462.6" width="0.9" height="0.9" fill="#fff" opacity="0.6"/>
<rect x="279.5" y="466.2" width="0.9" height="0.9" fill="#fff" opacity="0.6"/>
<rect x="283.1" y="462.6" width="0.9" height="0.9" fill="#fff" opacity="0.6"/>
<rect x="283.1" y="466.2" width="0.9" height="0.9" fill="#fff" opacity="0.6"/>
<rect x="286.7" y="462.6" width="0.9" height="0.9" fill="#fff" opacity="0.6"/>
<rect x="286.7" y="466.2" width="0.9" height="0.9" fill="#fff" opacity="0.6"/>
<rect x="290.3" y="462.6" width="0.9" height="0.9" fill="#fff" opacity="0.6"/>
<rect x="290.3" y="466.2" width="0.9" height="0.9" fill="#fff" opacity="0.6"/>
<rect x="293.9" y="462.6" width="0.9" height="0.9" fill="#fff" opacity="0.6"/>
<rect x="293.9" y="466.2" width="0.9" height="0.9" fill="#fff" opacity="0.6"/>
<rect x="297.5" y="462.6" width="0.9" height="0.9" fill="#fff" opacity="0.6"/>
<rect x="297.5" y="466.2" width="0.9" height="0.9" fill="#fff" opacity="0.6"/>
<rect x="301.1" y="462.6" width="0.9" height="0.9" fill="#fff" opacity="0.6"/>
<rect x="301.1" y="466.2" width="0.9" height="0.9" fill="#fff" opacity="0.6"/>
<rect x="304.7" y="462.6" width="0.9" height="0.9" fill="#fff" opacity="0.6"/>
<rect x="304.7" y="466.2" width="0.9" height="0.9" fill="#fff" opacity="0.6"/>
<rect x="308.3" y="462.6" width="0.9" height="0.9" fill="#fff" opacity="0.6"/>
<rect x="308.3" y="466.2" width="0.9" height="0.9" fill="#fff" opacity="0.6"/>
<rect x="311.9" y="462.6" width="0.9" height="0.9" fill="#fff" opacity="0.6"/>
<rect x="311.9" y="466.2" width="0.9" height="0.9" fill="#fff" opacity="0.6"/>
<rect x="315.5" y="462.6" width="0.9" height="0.9" fill="#fff" opacity="0.6"/>
<rect x="315.5" y="466.2" width="0.9" height="0.9" fill="#fff" opacity="0.6"/>
<rect x="319.1" y="462.6" width="0.9" height="0.9" fill="#fff" opacity="0.6"/>
<rect x="319.1" y="466.2" width="0.9" height="0.9" fill="#fff" opacity="0.6"/>
<rect x="322.7" y="462.6" width="0.9" height="0.9" fill="#fff" opacity="0.6"/>
<rect x="322.7" y="466.2" width="0.9" height="0.9" fill="#fff" opacity="0.6"/>
<rect x="326.3" y="462.6" width="0.9" height="0.9" fill="#fff" opacity="0.6"/>
<rect x="326.3" y="466.2" width="0.9" height="0.9" fill="#fff" opacity="0.6"/>
<rect x="329.9" y="462.6" width="0.9" height="0.9" fill="#fff" opacity="0.6"/>
<rect x="329.9" y="466.2" width="0.9" height="0.9" fill="#fff" opacity="0.6"/>
<rect x="333.5" y="462.6" width="0.9" height="0.9" fill="#fff" opacity="0.6"/>
<rect x="333.5" y="466.2" width="0.9" height="0.9" fill="#fff" opacity="0.6"/>
<rect x="337.1" y="462.6" width="0.9" height="0.9" fill="#fff" opacity="0.6"/>
<rect x="337.1" y="466.2" width="0.9" height="0.9" fill="#fff" opacity="0.6"/>
<rect x="340.7" y="462.6" width="0.9" height="0.9" fill="#fff" opacity="0.6"/>
<rect x="340.7" y="466.2" width="0.9" height="0.9" fill="#fff" opacity="0.6"/>
<rect x="344.3" y="462.6" width="0.9" height="0.9" fill="#fff" opacity="0.6"/>
<rect x="344.3" y="466.2" width="0.9" height="0.9" fill="#fff" opacity="0.6"/>
<rect x="347.9" y="462.6" width="0.9" height="0.9" fill="#fff" opacity="0.6"/>
<rect x="347.9" y="466.2" width="0.9" height="0.9" fill="#fff" opacity="0.6"/>
<rect x="351.5" y="462.6" width="0.9" height="0.9" fill="#fff" opacity="0.6"/>
<rect x="351.5" y="466.2" width="0.9" height="0.9" fill="#fff" opacity="0.6"/>
<rect x="355.1" y="462.6" width="0.9" height="0.9" fill="#fff" opacity="0.6"/>
<rect x="355.1" y="466.2" width="0.9" height="0.9" fill="#fff" opacity="0.6"/>
<rect x="358.7" y="462.6" width="0.9" height="0.9" fill="#fff" opacity="0.6"/>
<rect x="358.7" y="466.2" width="0.9" height="0.9" fill="#fff" opacity="0.6"/>
<rect x="362.3" y="462.6" width="0.9" height="0.9" fill="#fff" opacity="0.6"/>
<rect x="362.3" y="466.2" width="0.9" height="0.9" fill="#fff" opacity="0.6"/>
<rect x="365.9" y="462.6" width="0.9" height="0.9" fill="#fff" opacity="0.6"/>
<rect x="365.9" y="466.2" width="0.9" height="0.9" fill="#fff" opacity="0.6"/>
<rect x="369.5" y="462.6" width="0.9" height="0.9" fill="#fff" opacity="0.6"/>
<rect x="369.5" y="466.2" width="0.9" height="0.9" fill="#fff" opacity="0.6"/>
<rect x="373.1" y="462.6" width="0.9" height="0.9" fill="#fff" opacity="0.6"/>
<rect x="373.1" y="466.2" width="0.9" height="0.9" fill="#fff" opacity="0.6"/>
<rect x="376.7" y="462.6" width="0.9" height="0.9" fill="#fff" opacity="0.6"/>
<rect x="376.7" y="466.2" width="0.9" height="0.9" fill="#fff" opacity="0.6"/>
<rect x="380.3" y="462.6" width="0.9" height="0.9" fill="#fff" opacity="0.6"/>
<rect x="380.3" y="466.2" width="0.9" height="0.9" fill="#fff" opacity="0.6"/>
<rect x="383.9" y="462.6" width="0.9" height="0.9" fill="#fff" opacity="0.6"/>
<rect x="383.9" y="466.2" width="0.9" height="0.9" fill="#fff" opacity="0.6"/>
<rect x="387.5" y="462.6" width="0.9" height="0.9" fill="#fff" opacity="0.6"/>
<rect x="387.5" y="466.2" width="0.9" height="0.9" fill="#fff" opacity="0.6"/>
<rect x="391.1" y="462.6" width="0.9" height="0.9" fill="#fff" opacity="0.6"/>
<rect x="391.1" y="466.2" width="0.9" height="0.9" fill="#fff" opacity="0.6"/>
<rect x="394.7" y="462.6" width="0.9" height="0.9" fill="#fff" opacity="0.6"/>
<rect x="394.7" y="466.2" width="0.9" height="0.9" fill="#fff" opacity="0.6"/>
<rect x="398.3" y="462.6" width="0.9" height="0.9" fill="#fff" opacity="0.6"/>
<rect x="398.3" y="466.2" width="0.9" height="0.9" fill="#fff" opacity="0.6"/>
<rect x="401.9" y="462.6" width="0.9" height="0.9" fill="#fff" opacity="0.6"/>
<rect x="401.9" y="466.2" width="0.9" height="0.9" fill="#fff" opacity="0.6"/>
<rect x="405.5" y="462.6" width="0.9" height="0.9" fill="#fff" opacity="0.6"/>
<rect x="405.5" y="466.2" width="0.9" height="0.9" fill="#fff" opacity="0.6"/>
<rect x="409.1" y="462.6" width="0.9" height="0.9" fill="#fff" opacity="0.6"/>
<rect x="409.1" y="466.2" width="0.9" height="0.9" fill="#fff" opacity="0.6"/>
<rect x="412.7" y="462.6" width="0.9" height="0.9" fill="#fff" opacity="0.6"/>
<rect x="412.7" y="466.2" width="0.9" height="0.9" fill="#fff" opacity="0.6"/>
<rect x="416.3" y="462.6" width="0.9" height="0.9" fill="#fff" opacity="0.6"/>
<rect x="416.3" y="466.2" width="0.9" height="0.9" fill="#fff" opacity="0.6"/>
<rect x="419.9" y="462.6" width="0.9" height="0.9" fill="#fff" opacity="0.6"/>
<rect x="419.9" y="466.2" width="0.9" height="0.9" fill="#fff" opacity="0.6"/>
<rect x="423.5" y="462.6" width="0.9" height="0.9" fill="#fff" opacity="0.6"/>
<rect x="423.5" y="466.2" width="0.9" height="0.9" fill="#fff" opacity="0.6"/>
<rect x="427.1" y="462.6" width="0.9" height="0.9" fill="#fff" opacity="0.6"/>
<rect x="427.1" y="466.2" width="0.9" height="0.9" fill="#fff" opacity="0.6"/>
<rect x="430.7" y="462.6" width="0.9" height="0.9" fill="#fff" opacity="0.6"/>
<rect x="430.7" y="466.2" width="0.9" height="0.9" fill="#fff" opacity="0.6"/>
<rect x="434.3" y="462.6" width="0.9" height="0.9" fill="#fff" opacity="0.6"/>
<rect x="434.3" y="466.2" width="0.9" height="0.9" fill="#fff" opacity="0.6"/>
<rect x="437.9" y="462.6" width="0.9" height="0.9" fill="#fff" opacity="0.6"/>
<rect x="437.9" y="466.2" width="0.9" height="0.9" fill="#fff" opacity="0.6"/>
<rect x="441.5" y="462.6" width="0.9" height="0.9" fill="#fff" opacity="0.6"/>
<rect x="441.5" y="466.2" width="0.9" height="0.9" fill="#fff" opacity="0.6"/>
<rect x="445.1" y="462.6" width="0.9" height="0.9" fill="#fff" opacity="0.6"/>
<rect x="445.1" y="466.2" width="0.9" height="0.9" fill="#fff" opacity="0.6"/>
<rect x="448.7" y="462.6" width="0.9" height="0.9" fill="#fff" opacity="0.6"/>
<rect x="448.7" y="466.2" width="0.9" height="0.9" fill="#fff" opacity="0.6"/>
<rect x="452.3" y="462.6" width="0.9" height="0.9" fill="#fff" opacity="0.6"/>
<rect x="452.3" y="466.2" width="0.9" height="0.9" fill="#fff" opacity="0.6"/>
<rect x="455.9" y="462.6" width="0.9" height="0.9" fill="#fff" opacity="0.6"/>
<rect x="455.9" y="466.2" width="0.9" height="0.9" fill="#fff" opacity="0.6"/>
<rect x="459.5" y="462.6" width="0.9" height="0.9" fill="#fff" opacity="0.6"/>
<rect x="459.5" y="466.2" width="0.9" height="0.9" fill="#fff" opacity="0.6"/>
<rect x="463.1" y="462.6" width="0.9" height="0.9" fill="#fff" opacity="0.6"/>
<rect x="463.1" y="466.2" width="0.9" height="0.9" fill="#fff" opacity="0.6"/>
<rect x="466.7" y="462.6" width="0.9" height="0.9" fill="#fff" opacity="0.6"/>
<rect x="466.7" y="466.2" width="0.9" height="0.9" fill="#fff" opacity="0.6"/>
<rect x="470.3" y="462.6" width="0.9" height="0.9" fill="#fff" opacity="0.6"/>
<rect x="470.3" y="466.2" width="0.9" height="0.9" fill="#fff" opacity="0.6"/>
<rect x="473.9" y="462.6" width="0.9" height="0.9" fill="#fff" opacity="0.6"/>
<rect x="473.9" y="466.2" width="0.9" height="0.9" fill="#fff" opacity="0.6"/>
<rect x="477.5" y="462.6" width="0.9" height="0.9" fill="#fff" opacity="0.6"/>
<rect x="477.5" y="466.2" width="0.9" height="0.9" fill="#fff" opacity="0.6"/>
<rect x="481.1" y="462.6" width="0.9" height="0.9" fill="#fff" opacity="0.6"/>
<rect x="481.1" y="466.2" width="0.9" height="0.9" fill="#fff" opacity="0.6"/>
<rect x="484.7" y="462.6" width="0.9" height="0.9" fill="#fff" opacity="0.6"/>
<rect x="484.7" y="466.2" width="0.9" height="0.9" fill="#fff" opacity="0.6"/>
<rect x="488.3" y="462.6" width="0.9" height="0.9" fill="#fff" opacity="0.6"/>
<rect x="488.3" y="466.2" width="0.9" height="0.9" fill="#fff" opacity="0.6"/>
<rect x="491.9" y="462.6" width="0.9" height="0.9" fill="#fff" opacity="0.6"/>
<rect x="491.9" y="466.2" width="0.9" height="0.9" fill="#fff" opacity="0.6"/>
<rect x="495.5" y="462.6" width="0.9" height="0.9" fill="#fff" opacity="0.6"/>
<rect x="495.5" y="466.2" width="0.9" height="0.9" fill="#fff" opacity="0.6"/>
<rect x="499.1" y="462.6" width="0.9" height="0.9" fill="#fff" opacity="0.6"/>
<rect x="499.1" y="466.2" width="0.9" height="0.9" fill="#fff" opacity="0.6"/>
<rect x="502.7" y="462.6" width="0.9" height="0.9" fill="#fff" opacity="0.6"/>
<rect x="502.7" y="466.2" width="0.9" height="0.9" fill="#fff" opacity="0.6"/>
<rect x="506.3" y="462.6" width="0.9" height="0.9" fill="#fff" opacity="0.6"/>
<rect x="506.3" y="466.2" width="0.9" height="0.9" fill="#fff" opacity="0.6"/>
<rect x="509.9" y="462.6" width="0.9" height="0.9" fill="#fff" opacity="0.6"/>
<rect x="509.9" y="466.2" width="0.9" height="0.9" fill="#fff" opacity="0.6"/>
<rect x="513.5" y="462.6" width="0.9" height="0.9" fill="#fff" opacity="0.6"/>
<rect x="513.5" y="466.2" width="0.9" height="0.9" fill="#fff" opacity="0.6"/>
<rect x="517.1" y="462.6" width="0.9" height="0.9" fill="#fff" opacity="0.6"/>
<rect x="517.1" y="466.2" width="0.9" height="0.9" fill="#fff" opacity="0.6"/>
<rect x="520.7" y="462.6" width="0.9" height="0.9" fill="#fff" opacity="0.6"/>
<rect x="520.7" y="466.2" width="0.9" height="0.9" fill="#fff" opacity="0.6"/>
<rect x="524.3" y="462.6" width="0.9" height="0.9" fill="#fff" opacity="0.6"/>
<rect x="524.3" y="466.2" width="0.9" height="0.9" fill="#fff" opacity="0.6"/>
<rect x="527.9" y="462.6" width="0.9" height="0.9" fill="#fff" opacity="0.6"/>
<rect x="527.9" y="466.2" width="0.9" height="0.9" fill="#fff" opacity="0.6"/>
<rect x="531.5" y="462.6" width="0.9" height="0.9" fill="#fff" opacity="0.6"/>
<rect x="531.5" y="466.2" width="0.9" height="0.9" fill="#fff" opacity="0.6"/>
<rect x="535.1" y="462.6" width="0.9" height="0.9" fill="#fff" opacity="0.6"/>
<rect x="535.1" y="466.2" width="0.9" height="0.9" fill="#fff" opacity="0.6"/>
<rect x="538.7" y="462.6" width="0.9" height="0.9" fill="#fff" opacity="0.6"/>
<rect x="538.7" y="466.2" width="0.9" height="0.9" fill="#fff" opacity="0.6"/>
<rect x="542.3" y="462.6" width="0.9" height="0.9" fill="#fff" opacity="0.6"/>
<rect x="542.3" y="466.2" width="0.9" height="0.9" fill="#fff" opacity="0.6"/>
<rect x="545.9" y="462.6" width="0.9" height="0.9" fill="#fff" opacity="0.6"/>
<rect x="545.9" y="466.2" width="0.9" height="0.9" fill="#fff" opacity="0.6"/>
<rect x="549.5" y="462.6" width="0.9" height="0.9" fill="#fff" opacity="0.6"/>
<rect x="549.5" y="466.2" width="0.9" height="0.9" fill="#fff" opacity="0.6"/>
<rect x="553.1" y="462.6" width="0.9" height="0.9" fill="#fff" opacity="0.6"/>
<rect x="553.1" y="466.2" width="0.9" height="0.9" fill="#fff" opacity="0.6"/>
<rect x="556.7" y="462.6" width="0.9" height="0.9" fill="#fff" opacity="0.6"/>
<rect x="556.7" y="466.2" width="0.9" height="0.9" fill="#fff" opacity="0.6"/>
<rect x="560.3" y="462.6" width="0.9" height="0.9" fill="#fff" opacity="0.6"/>
<rect x="560.3" y="466.2" width="0.9" height="0.9" fill="#fff" opacity="0.6"/>
<rect x="563.9" y="462.6" width="0.9" height="0.9" fill="#fff" opacity="0.6"/>
<rect x="563.9" y="466.2" width="0.9" height="0.9" fill="#fff" opacity="0.6"/>
<rect x="567.5" y="462.6" width="0.9" height="0.9" fill="#fff" opacity="0.6"/>
<rect x="567.5" y="466.2" width="0.9" height="0.9" fill="#fff" opacity="0.6"/>
<rect x="571.1" y="462.6" width="0.9" height="0.9" fill="#fff" opacity="0.6"/>
<rect x="571.1" y="466.2" width="0.9" height="0.9" fill="#fff" opacity="0.6"/>
<rect x="574.7" y="462.6" width="0.9" height="0.9" fill="#fff" opacity="0.6"/>
<rect x="574.7" y="466.2" width="0.9" height="0.9" fill="#fff" opacity="0.6"/>
<rect x="578.3" y="462.6" width="0.9" height="0.9" fill="#fff" opacity="0.6"/>
<rect x="578.3" y="466.2" width="0.9" height="0.9" fill="#fff" opacity="0.6"/>
<rect x="581.9" y="462.6" width="0.9" height="0.9" fill="#fff" opacity="0.6"/>
<rect x="581.9" y="466.2" width="0.9" height="0.9" fill="#fff" opacity="0.6"/>
<rect x="585.5" y="462.6" width="0.9" height="0.9" fill="#fff" opacity="0.6"/>
<rect x="585.5" y="466.2" width="0.9" height="0.9" fill="#fff" opacity="0.6"/>
<rect x="589.1" y="462.6" width="0.9" height="0.9" fill="#fff" opacity="0.6"/>
<rect x="589.1" y="466.2" width="0.9" height="0.9" fill="#fff" opacity="0.6"/>
<rect x="592.7" y="462.6" width="0.9" height="0.9" fill="#fff" opacity="0.6"/>
<rect x="592.7" y="466.2" width="0.9" height="0.9" fill="#fff" opacity="0.6"/>
<rect x="596.3" y="462.6" width="0.9" height="0.9" fill="#fff" opacity="0.6"/>
<rect x="596.3" y="466.2" width="0.9" height="0.9" fill="#fff" opacity="0.6"/>
<rect x="599.9" y="462.6" width="0.9" height="0.9" fill="#fff" opacity="0.6"/>
<rect x="599.9" y="466.2" width="0.9" height="0.9" fill="#fff" opacity="0.6"/>
<rect x="603.5" y="462.6" width="0.9" height="0.9" fill="#fff" opacity="0.6"/>
<rect x="603.5" y="466.2" width="0.9" height="0.9" fill="#fff" opacity="0.6"/>
<rect x="607.1" y="462.6" width="0.9" height="0.9" fill="#fff" opacity="0.6"/>
<rect x="607.1" y="466.2" width="0.9" height="0.9" fill="#fff" opacity="0.6"/>
<rect x="610.7" y="462.6" width="0.9" height="0.9" fill="#fff" opacity="0.6"/>
<rect x="610.7" y="466.2" width="0.9" height="0.9" fill="#fff" opacity="0.6"/>
<rect x="614.3" y="462.6" width="0.9" height="0.9" fill="#fff" opacity="0.6"/>
<rect x="614.3" y="466.2" width="0.9" height="0.9" fill="#fff" opacity="0.6"/>
<rect x="617.9" y="462.6" width="0.9" height="0.9" fill="#fff" opacity="0.6"/>
<rect x="617.9" y="466.2" width="0.9" height="0.9" fill="#fff" opacity="0.6"/>
<rect x="621.5" y="462.6" width="0.9" height="0.9" fill="#fff" opacity="0.6"/>
<rect x="621.5" y="466.2" width="0.9" height="0.9" fill="#fff" opacity="0.6"/>
<rect x="625.1" y="462.6" width="0.9" height="0.9" fill="#fff" opacity="0.6"/>
<rect x="625.1" y="466.2" width="0.9" height="0.9" fill="#fff" opacity="0.6"/>
<rect x="628.7" y="462.6" width="0.9" height="0.9" fill="#fff" opacity="0.6"/>
<rect x="628.7" y="466.2" width="0.9" height="0.9" fill="#fff" opacity="0.6"/>
<rect x="632.3" y="462.6" width="0.9" height="0.9" fill="#fff" opacity="0.6"/>
<rect x="632.3" y="466.2" width="0.9" height="0.9" fill="#fff" opacity="0.6"/>
<rect x="635.9" y="462.6" width="0.9" height="0.9" fill="#fff" opacity="0.6"/>
<rect x="635.9" y="466.2" width="0.9" height="0.9" fill="#fff" opacity="0.6"/>
<rect x="639.5" y="462.6" width="0.9" height="0.9" fill="#fff" opacity="0.6"/>
<rect x="639.5" y="466.2" width="0.9" height="0.9" fill="#fff" opacity="0.6"/>
<rect x="643.1" y="462.6" width="0.9" height="0.9" fill="#fff" opacity="0.6"/>
<rect x="643.1" y="466.2" width="0.9" height="0.9" fill="#fff" opacity="0.6"/>
<rect x="646.7" y="462.6" width="0.9" height="0.9" fill="#fff" opacity="0.6"/>
<rect x="646.7" y="466.2" width="0.9" height="0.9" fill="#fff" opacity="0.6"/>
<rect x="650.3" y="462.6" width="0.9" height="0.9" fill="#fff" opacity="0.6"/>
<rect x="650.3" y="466.2" width="0.9" height="0.9" fill="#fff" opacity="0.6"/>
<rect x="653.9" y="462.6" width="0.9" height="0.9" fill="#fff" opacity="0.6"/>
<rect x="653.9" y="466.2" width="0.9" height="0.9" fill="#fff" opacity="0.6"/>
<rect x="30.5" y="294.5" width="650.0" height="176.0" fill="none" stroke="#4a4a4a" stroke-width="1.2"/>
<line x1="30.4" y1="470" x2="30.4" y2="467" stroke="#4a4a4a" stroke-width="1"/>
<line x1="30.4" y1="295" x2="30.4" y2="298" stroke="#4a4a4a" stroke-width="1"/>
<line x1="120.5" y1="470" x2="120.5" y2="467" stroke="#4a4a4a" stroke-width="1"/>
<line x1="120.5" y1="295" x2="120.5" y2="298" stroke="#4a4a4a" stroke-width="1"/>
<line x1="210.6" y1="470" x2="210.6" y2="467" stroke="#4a4a4a" stroke-width="1"/>
<line x1="210.6" y1="295" x2="210.6" y2="298" stroke="#4a4a4a" stroke-width="1"/>
<line x1="300.6" y1="470" x2="300.6" y2="467" stroke="#4a4a4a" stroke-width="1"/>
<line x1="300.6" y1="295" x2="300.6" y2="298" stroke="#4a4a4a" stroke-width="1"/>
<line x1="390.7" y1="470" x2="390.7" y2="467" stroke="#4a4a4a" stroke-width="1"/>
<line x1="390.7" y1="295" x2="390.7" y2="298" stroke="#4a4a4a" stroke-width="1"/>
<line x1="480.8" y1="470" x2="480.8" y2="467" stroke="#4a4a4a" stroke-width="1"/>
<line x1="480.8" y1="295" x2="480.8" y2="298" stroke="#4a4a4a" stroke-width="1"/>
<line x1="570.9" y1="470" x2="570.9" y2="467" stroke="#4a4a4a" stroke-width="1"/>
<line x1="570.9" y1="295" x2="570.9" y2="298" stroke="#4a4a4a" stroke-width="1"/>
<line x1="661.0" y1="470" x2="661.0" y2="467" stroke="#4a4a4a" stroke-width="1"/>
<line x1="661.0" y1="295" x2="661.0" y2="298" stroke="#4a4a4a" stroke-width="1"/>
<line x1="31" y1="470.5" x2="34" y2="470.5" stroke="#4a4a4a" stroke-width="1"/>
<line x1="677" y1="470.5" x2="680" y2="470.5" stroke="#4a4a4a" stroke-width="1"/>
<line x1="31" y1="447.1" x2="34" y2="447.1" stroke="#4a4a4a" stroke-width="1"/>
<line x1="677" y1="447.1" x2="680" y2="447.1" stroke="#4a4a4a" stroke-width="1"/>
<line x1="31" y1="423.8" x2="34" y2="423.8" stroke="#4a4a4a" stroke-width="1"/>
<line x1="677" y1="423.8" x2="680" y2="423.8" stroke="#4a4a4a" stroke-width="1"/>
<line x1="31" y1="400.4" x2="34" y2="400.4" stroke="#4a4a4a" stroke-width="1"/>
<line x1="677" y1="400.4" x2="680" y2="400.4" stroke="#4a4a4a" stroke-width="1"/>
<line x1="31" y1="377.1" x2="34" y2="377.1" stroke="#4a4a4a" stroke-width="1"/>
<line x1="677" y1="377.1" x2="680" y2="377.1" stroke="#4a4a4a" stroke-width="1"/>
<line x1="31" y1="353.7" x2="34" y2="353.7" stroke="#4a4a4a" stroke-width="1"/>
<line x1="677" y1="353.7" x2="680" y2="353.7" stroke="#4a4a4a" stroke-width="1"/>
<line x1="31" y1="330.3" x2="34" y2="330.3" stroke="#4a4a4a" stroke-width="1"/>
<line x1="677" y1="330.3" x2="680" y2="330.3" stroke="#4a4a4a" stroke-width="1"/>
<line x1="31" y1="307.0" x2="34" y2="307.0" stroke="#4a4a4a" stroke-width="1"/>
<line x1="677" y1="307.0" x2="680" y2="307.0" stroke="#4a4a4a" stroke-width="1"/>
<text x="32.0" y="485.0" font-family="Liberation Mono, monospace" font-weight="bold" font-size="11" text-anchor="middle" textLength="5.8" lengthAdjust="spacingAndGlyphs" >0</text>
<text x="122.1" y="485.0" font-family="Liberation Mono, monospace" font-weight="bold" font-size="11" text-anchor="middle" textLength="17.4" lengthAdjust="spacingAndGlyphs" >100</text>
<text x="212.2" y="485.0" font-family="Liberation Mono, monospace" font-weight="bold" font-size="11" text-anchor="middle" textLength="17.4" lengthAdjust="spacingAndGlyphs" >200</text>
<text x="302.2" y="485.0" font-family="Liberation Mono, monospace" font-weight="bold" font-size="11" text-anchor="middle" textLength="17.4" lengthAdjust="spacingAndGlyphs" >300</text>
<text x="392.3" y="485.0" font-family="Liberation Mono, monospace" font-weight="bold" font-size="11" text-anchor="middle" textLength="17.4" lengthAdjust="spacingAndGlyphs" >400</text>
<text x="482.4" y="485.0" font-family="Liberation Mono, monospace" font-weight="bold" font-size="11" text-anchor="middle" textLength="17.4" lengthAdjust="spacingAndGlyphs" >500</text>
<text x="572.5" y="485.0" font-family="Liberation Mono, monospace" font-weight="bold" font-size="11" text-anchor="middle" textLength="17.4" lengthAdjust="spacingAndGlyphs" >600</text>
<text x="662.6" y="485.0" font-family="Liberation Mono, monospace" font-weight="bold" font-size="11" text-anchor="middle" textLength="17.4" lengthAdjust="spacingAndGlyphs" >700</text>
<text x="24.6" y="474.4" font-family="Liberation Mono, monospace" font-weight="bold" font-size="11" text-anchor="end" textLength="5.8" lengthAdjust="spacingAndGlyphs" >0</text>
<text x="24.6" y="451.0" font-family="Liberation Mono, monospace" font-weight="bold" font-size="11" text-anchor="end" textLength="5.8" lengthAdjust="spacingAndGlyphs" >2</text>
<text x="24.6" y="427.7" font-family="Liberation Mono, monospace" font-weight="bold" font-size="11" text-anchor="end" textLength="5.8" lengthAdjust="spacingAndGlyphs" >4</text>
<text x="24.6" y="404.3" font-family="Liberation Mono, monospace" font-weight="bold" font-size="11" text-anchor="end" textLength="5.8" lengthAdjust="spacingAndGlyphs" >6</text>
<text x="24.6" y="381.0" font-family="Liberation Mono, monospace" font-weight="bold" font-size="11" text-anchor="end" textLength="5.8" lengthAdjust="spacingAndGlyphs" >8</text>
<text x="24.6" y="357.6" font-family="Liberation Mono, monospace" font-weight="bold" font-size="11" text-anchor="end" textLength="11.6" lengthAdjust="spacingAndGlyphs" >10</text>
<text x="24.6" y="334.2" font-family="Liberation Mono, monospace" font-weight="bold" font-size="11" text-anchor="end" textLength="11.6" lengthAdjust="spacingAndGlyphs" >12</text>
<text x="24.6" y="310.9" font-family="Liberation Mono, monospace" font-weight="bold" font-size="11" text-anchor="end" textLength="11.6" lengthAdjust="spacingAndGlyphs" >14</text>
<text x="327.2" y="500.6" font-family="Liberation Mono, monospace" font-weight="bold" font-size="9.9" text-anchor="start" textLength="76.3" lengthAdjust="spacingAndGlyphs" >Residue Number</text>
<text transform="translate(7.4,474.4) rotate(-90)" font-family="Liberation Mono, monospace" font-weight="bold" font-size="9.6" textLength="181.5" lengthAdjust="spacingAndGlyphs">Estimated Accuracy (in Angstrom)</text>
<text x="198.8" y="314.2" font-family="Liberation Serif, serif" font-size="12" textLength="275" lengthAdjust="spacingAndGlyphs">Estimated local accuracy of the model by the algorithm ResQ</text>
<text x="41.2" y="309.3" font-family="Liberation Serif, serif" font-weight="bold" font-size="14" textLength="16.8" lengthAdjust="spacingAndGlyphs">(b)</text>
<text x="29.1" y="273.3" font-family="Liberation Mono, monospace" font-weight="bold" font-size="9.9" text-anchor="start" textLength="100" lengthAdjust="spacingAndGlyphs" >Estimated Distance</text>
<line x1="133.2" y1="268.1" x2="158.6" y2="268.1" stroke="#0000ff" stroke-width="1.6"/>
<text x="233.2" y="273.3" font-family="Liberation Mono, monospace" font-weight="bold" font-size="9.9" text-anchor="start" textLength="28.7" lengthAdjust="spacingAndGlyphs" >Helix</text>
<circle cx="279.2" cy="269.1" r="2" fill="#ff0000"/>
<text x="361.4" y="273.3" font-family="Liberation Mono, monospace" font-weight="bold" font-size="9.9" text-anchor="start" textLength="33.9" lengthAdjust="spacingAndGlyphs" >Strand</text>
<rect x="409.8" y="266.8" width="4.9" height="4.6" fill="#00c000"/>
<text x="505.4" y="273.3" font-family="Liberation Mono, monospace" font-weight="bold" font-size="9.9" text-anchor="start" textLength="22.4" lengthAdjust="spacingAndGlyphs" >Coil</text>
<ellipse cx="545.4" cy="269" rx="1.1" ry="1.8" fill="#000"/>
</svg>
</body></html>
